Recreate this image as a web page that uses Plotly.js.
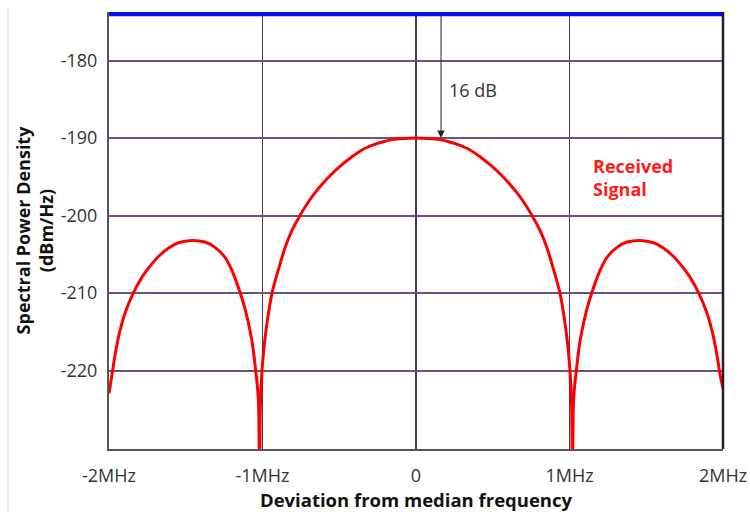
<!DOCTYPE html>
<html>
<head>
<meta charset="utf-8">
<script src="https://cdn.plot.ly/plotly-3.0.1.min.js"></script>
<style>html,body{margin:0;padding:0;background:#fff;}#chart{width:750px;height:512px;}</style>
</head>
<body>
<div id="chart"></div>
<script>
// Frequency deviation (MHz) and received spectral power density (dBm/Hz)
const freqMHz = [
  -2.0, -1.978, -1.961, -1.928, -1.896, -1.842, -1.787, -1.744, -1.679, -1.614, -1.548, -1.461,
  -1.375, -1.309, -1.244, -1.201, -1.158, -1.114, -1.07, -1.049, -1.027, -1.02,
  -1.014, -1.003, -0.992, -0.971, -0.938, -0.894, -0.851, -0.81, -0.765, -0.71, -0.656, -0.6, -0.547,
  -0.48, -0.417, -0.35, -0.287, -0.22, -0.156, -0.08, 0,
  0.08, 0.156, 0.22, 0.287, 0.35, 0.417, 0.48, 0.547, 0.6, 0.656, 0.71, 0.765, 0.81, 0.851, 0.894,
  0.938, 0.971, 0.992, 1.003, 1.014,
  1.02, 1.027, 1.049, 1.07, 1.114, 1.158, 1.201, 1.244, 1.309, 1.375, 1.461, 1.548, 1.614,
  1.679, 1.744, 1.787, 1.842, 1.896, 1.928, 1.961, 1.978, 2.0
];
const psdDbm = [
  -222.9, -220.2, -218.0, -214.8, -212.6, -210.0, -208.0, -206.8, -205.3, -204.2, -203.5, -203.2,
  -203.4, -204.1, -205.4, -207.0, -209.2, -212.0, -216.0, -219.2, -223.6, -240,
  -224.7, -219.9, -217.4, -213.9, -210.0, -206.8, -204.0, -202.0, -200.3, -198.5, -197.0, -195.7, -194.6,
  -193.4, -192.4, -191.5, -190.95, -190.5, -190.2, -190.05, -190.0,
  -190.05, -190.2, -190.5, -190.95, -191.5, -192.4, -193.4, -194.6, -195.7, -197.0, -198.5, -200.3, -202.0, -204.0, -206.8,
  -210.0, -213.9, -217.4, -219.9, -224.7,
  -240, -223.6, -219.2, -216.0, -212.0, -209.2, -207.0, -205.4, -204.1, -203.4, -203.2, -203.5, -204.2,
  -205.3, -206.8, -208.0, -210.0, -212.6, -214.8, -218.0, -220.2, -222.3
];
// Reference level line (top)
const refX = [-2, 2];
const refY = [-174, -174];
// Axis ticks
const xTickVals = [-2, -1, 0, 1, 2];
const xTickText = ['-2MHz', '-1MHz', '0', '1MHz', '2MHz'];
const yTickVals = [-220, -210, -200, -190, -180];
const yTickText = ['-220', '-210', '-200', '-190', '-180'];
// Annotation values
const arrowFreq = 0.163;
const arrowTop = -174;
const arrowBottom = -190;
const arrowLabel = '16 dB';
const signalLabel = 'Received<br>Signal';

const FONT = '"Open Sans", "Noto Sans", sans-serif';

const traces = [
  {
    x: freqMHz, y: psdDbm, type: 'scatter', mode: 'lines',
    line: {color: '#ff0000', width: 3, shape: 'spline', smoothing: 0.8},
    name: 'Received Signal', hoverinfo: 'skip'
  },
  {
    x: refX, y: refY, type: 'scatter', mode: 'lines',
    line: {color: '#0010f0', width: 4.5},
    name: 'Reference', hoverinfo: 'skip', cliponaxis: false
  }
];

const layout = {
  width: 750, height: 512,
  margin: {l: 109, r: 27, t: 12, b: 63, pad: 0},
  paper_bgcolor: '#ffffff', plot_bgcolor: '#ffffff',
  showlegend: false,
  font: {family: FONT, size: 18, color: '#333333'},
  xaxis: {
    range: [-2, 2], fixedrange: true,
    tickvals: xTickVals, ticktext: xTickText,
    ticks: '', ticklabelstandoff: 9,
    tickfont: {family: FONT, size: 18, color: '#333333'},
    showgrid: true, gridcolor: '#4e3060', gridwidth: 1.5,
    zeroline: false,
    showline: true, linecolor: '#555555', linewidth: 2, mirror: false,
    title: {text: 'Deviation from median frequency', font: {family: FONT, size: 18.5, color: '#111111', weight: 'bold'}, standoff: 4}
  },
  yaxis: {
    range: [-230.1, -173.74], fixedrange: true,
    tickvals: yTickVals, ticktext: yTickText,
    ticks: '', ticklabelstandoff: 6,
    tickfont: {family: FONT, size: 18, color: '#333333'},
    showgrid: true, gridcolor: '#6e5080', gridwidth: 2,
    zeroline: false,
    showline: true, linecolor: '#555555', linewidth: 2, mirror: false,
    title: {text: 'Spectral Power Density<br>(dBm/Hz)', font: {family: FONT, size: 18, color: '#111111', weight: 'bold'}, standoff: 2}
  },
  shapes: [
    {type: 'line', xref: 'paper', yref: 'paper', x0: 1, x1: 1, y0: 0, y1: 1,
     line: {color: '#2a1a30', width: 2.5}},
    {type: 'line', xref: 'paper', yref: 'paper', x0: -0.1645, x1: -0.1645, y0: -0.15, y1: 1.01,
     line: {color: '#dddddd', width: 1}}
  ],
  annotations: [
    {x: arrowFreq, y: arrowBottom, ax: arrowFreq, ay: arrowTop, xref: 'x', yref: 'y', axref: 'x', ayref: 'y',
     showarrow: true, arrowhead: 2, arrowsize: 1.5, arrowwidth: 1, arrowcolor: '#222222', standoff: 0, text: ''},
    {x: 0.2, y: -183.8, xref: 'x', yref: 'y', text: arrowLabel, showarrow: false,
     xanchor: 'left', yanchor: 'middle', font: {family: FONT, size: 18, color: '#333333'}},
    {x: 1.14, y: -195.1, xref: 'x', yref: 'y', text: signalLabel, showarrow: false, align: 'left',
     xanchor: 'left', yanchor: 'middle', font: {family: FONT, size: 18, color: '#ff1a1a', weight: 'bold'}}
  ]
};

Plotly.newPlot('chart', traces, layout, {staticPlot: true, displayModeBar: false});
</script>
</body>
</html>
